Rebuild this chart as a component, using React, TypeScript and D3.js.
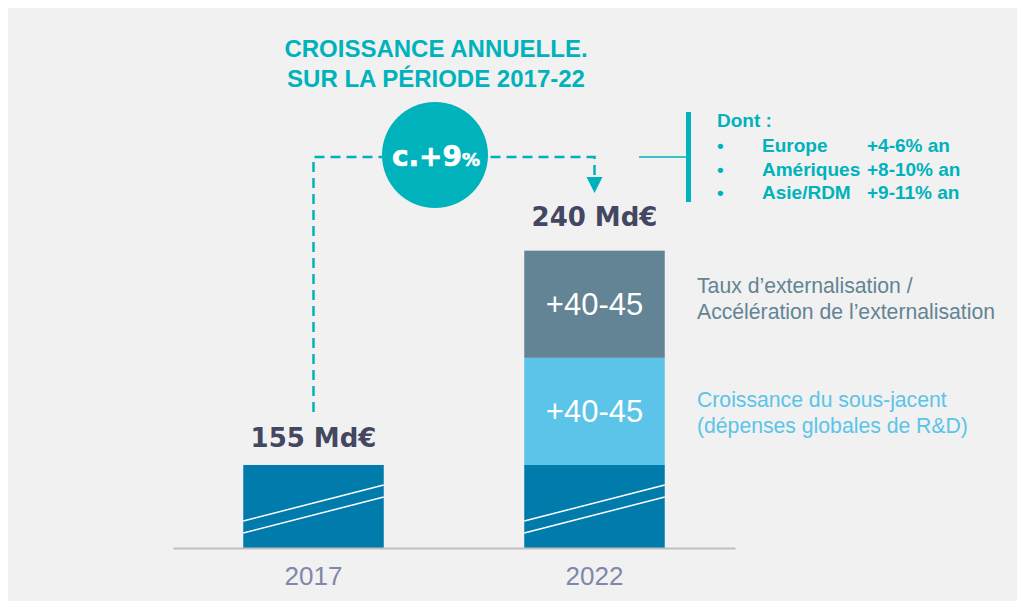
import React, { useEffect, useRef } from "react";
import * as d3 from "d3";

// chart data
const years = ["2017", "2022"];
const totalLabels = ["155 Md€", "240 Md€"];
// the reference draws the increments schematically, not to scale:
// heights below are the drawn heights (base = 155)
const baseValues = [155, 155];
const underlyingValues = [0, 200];
const outsourcingValues = [0, 200];
const incrementLabels = ["+40-45", "+40-45"];
const incrementNotes = [
  ["Croissance du sous-jacent", "(dépenses globales de R&D)"],
  ["Taux d’externalisation /", "Accélération de l’externalisation"],
];
const titleLines = ["CROISSANCE ANNUELLE.", "SUR LA PÉRIODE 2017-22"];
const cagrLabel = "c.+9";
const regions = ["Europe", "Amériques", "Asie/RDM"];
const regionGrowth = ["+4-6% an", "+8-10% an", "+9-11% an"];

const W = 1017;
const H = 593;
const TEAL = "#00b2bb";
const DARK = "#434761";
const C_BASE = "#007bab";
const C_UNDER = "#5bc4e8";
const C_OUT = "#628494";

export default function App() {
  const axisRef = useRef<SVGGElement>(null);

  const x = d3
    .scaleBand<string>()
    .domain(years)
    .range([173, 735])
    .paddingInner(0.5)
    .paddingOuter(0.25);

  const y = d3.scaleLinear().domain([0, 560]).range([548, 248]);

  // stack the three segments
  const rows = years.map((yr, i) => ({
    year: yr,
    base: baseValues[i],
    under: underlyingValues[i],
    out: outsourcingValues[i],
  }));
  const stack = d3.stack<any>().keys(["base", "under", "out"])(rows);
  const colors = [C_BASE, C_UNDER, C_OUT];

  useEffect(() => {
    const axis = d3.axisBottom(x).tickSize(0).tickSizeOuter(0).tickPadding(19);
    const g = d3.select(axisRef.current!).call(axis as any);
    g.select(".domain").attr("stroke", "#bfbfbf").attr("stroke-width", 2);
    g.selectAll("text")
      .attr("font-family", "'Liberation Sans', Arial, sans-serif")
      .attr("font-size", 26)
      .attr("fill", "#8087a8");
  }, []);

  const cx0 = x(years[0])! + x.bandwidth() / 2;
  const cx1 = x(years[1])! + x.bandwidth() / 2;
  const top0 = y(baseValues[0] + underlyingValues[0] + outsourcingValues[0]);
  const top1 = y(baseValues[1] + underlyingValues[1] + outsourcingValues[1]);

  const circle = { x: 435, y: 155, r: 53 };
  const lineY = 157;

  return (
    <>
      <style>{"body{overflow:hidden}"}</style>
      <svg
        width={W}
        height={H}
        viewBox={`8 8 ${W} ${H}`}
        style={{ display: "block" }}
        fontFamily="'Liberation Sans', Arial, sans-serif"
      >
        <rect x={8} y={8} width={W} height={H} fill="#f1f1f1" />

        {/* title */}
        {titleLines.map((t, i) => (
          <text
            key={t}
            x={436}
            y={57 + i * 30}
            textAnchor="middle"
            fontSize={24}
            fontWeight="bold"
            fill={TEAL}
          >
            {t}
          </text>
        ))}

        {/* dashed connector */}
        <path
          d={`M${cx0},412V${lineY}H${cx1}V177`}
          fill="none"
          stroke={TEAL}
          strokeWidth={2.5}
          strokeDasharray="10,6"
        />
        <path d={`M${cx1 - 8},177L${cx1 + 8},177L${cx1},193Z`} fill={TEAL} />

        {/* CAGR bubble */}
        <circle cx={circle.x} cy={circle.y} r={circle.r} fill={TEAL} />
        <text
          x={circle.x + 1}
          y={166}
          textAnchor="middle"
          fill="#fff"
          fontFamily="'DejaVu Sans', sans-serif"
          fontWeight="bold"
          stroke="#fff"
          strokeWidth={0.6}
        >
          <tspan fontSize={28}>{cagrLabel}</tspan>
          <tspan fontSize={18}>%</tspan>
        </text>

        {/* regional breakdown */}
        <line x1={639} x2={688} y1={157} y2={157} stroke={TEAL} strokeWidth={1.5} />
        <rect x={686} y={112} width={5} height={90} fill={TEAL} />
        <g fill={TEAL} fontWeight="bold" fontSize={19}>
          <text x={717} y={127}>Dont :</text>
          {regions.map((r, i) => (
            <g key={r}>
              <text x={717} y={152 + i * 23.5} fontSize={19}>•</text>
              <text x={762} y={152 + i * 23.5}>{r}</text>
              <text x={867} y={152 + i * 23.5}>{regionGrowth[i]}</text>
            </g>
          ))}
        </g>

        {/* bars */}
        {stack.map((layer, k) => (
          <g key={layer.key} fill={colors[k]}>
            {layer.map((d, i) =>
              d[1] - d[0] > 0 ? (
                <rect
                  key={years[i]}
                  x={x(years[i])}
                  y={y(d[1])}
                  width={x.bandwidth()}
                  height={y(d[0]) - y(d[1])}
                />
              ) : null
            )}
          </g>
        ))}

        {/* axis-break marks on the base segments */}
        {years.map((yr) => {
          const x0 = x(yr)!;
          const x1 = x0 + x.bandwidth();
          return (
            <g key={yr} stroke="#fff" strokeWidth={1.5}>
              <line x1={x0} y1={y(0) - 27} x2={x1} y2={y(0) - 63} />
              <line x1={x0} y1={y(0) - 15} x2={x1} y2={y(0) - 51} />
            </g>
          );
        })}

        {/* increment labels inside the 2022 bar */}
        {stack.slice(1).map((layer, k) => {
          const d = layer[1];
          const mid = (y(d[0]) + y(d[1])) / 2;
          return (
            <text
              key={layer.key}
              x={cx1}
              y={mid + 11}
              textAnchor="middle"
              fontSize={31}
              fill="#fff"
            >
              {incrementLabels[k]}
            </text>
          );
        })}

        {/* increment notes */}
        {stack.slice(1).map((layer, k) => {
          const top = y(layer[1][1]);
          const off = k === 0 ? 49 : 42;
          return (
            <text
              key={layer.key}
              x={697}
              y={top + off}
              fontSize={21.2}
              fill={k === 0 ? C_UNDER : C_OUT}
            >
              <tspan x={697}>{incrementNotes[k][0]}</tspan>
              <tspan x={697} dy={26}>
                {incrementNotes[k][1]}
              </tspan>
            </text>
          );
        })}

        {/* totals */}
        <g fontFamily="'DejaVu Sans', sans-serif" fontWeight="bold" fontSize={26} fill={DARK} textAnchor="middle">
          <text x={cx0} y={top0 - 18}>{totalLabels[0]}</text>
          <text x={cx1} y={top1 - 25}>{totalLabels[1]}</text>
        </g>

        <g ref={axisRef} transform={`translate(0,${y(0)})`} />
      </svg>
    </>
  );
}
